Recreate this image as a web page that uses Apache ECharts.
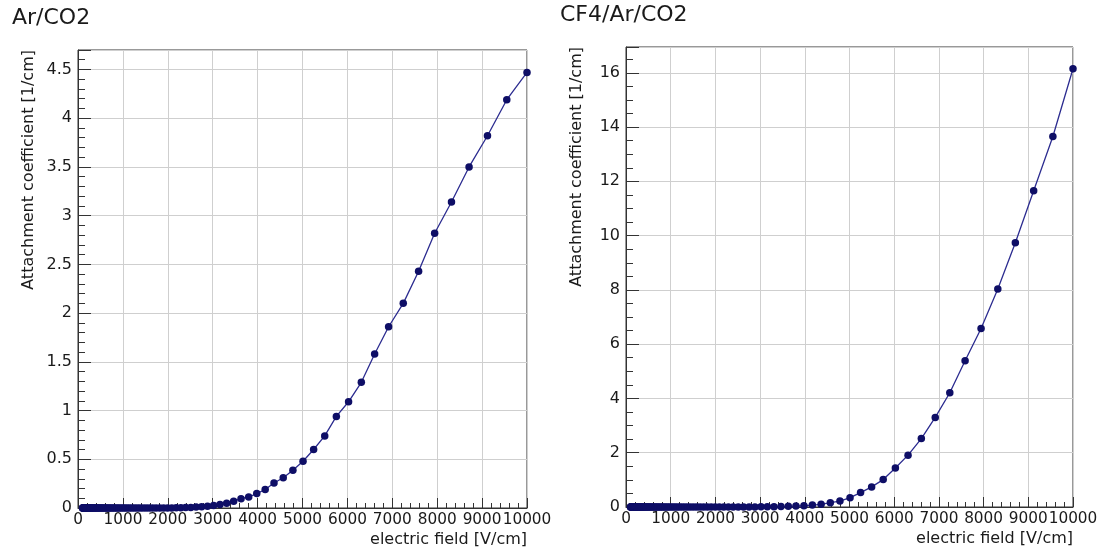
<!DOCTYPE html>
<html>
<head>
<meta charset="utf-8">
<script src="https://cdn.jsdelivr.net/npm/echarts@6/dist/echarts.min.js"></script>
<style>
html,body{margin:0;padding:0;background:#fff;}
#c{width:1103px;height:556px;}
</style>
</head>
<body>
<div id="c"></div>
<script>
// electric field values [V/cm] (same for both panels)
var fieldValues = [100,105,110,115,120,126,132,138,145,151,158,166,174,182,191,200,209,219,229,240,251,263,275,288,302,316,331,347,363,380,398,417,437,457,479,501,525,550,575,603,631,661,692,724,759,794,832,871,912,955,1000,1047,1096,1148,1202,1259,1318,1380,1445,1514,1585,1660,1738,1820,1905,1995,2089,2188,2291,2399,2512,2630,2754,2884,3020,3162,3311,3467,3631,3802,3981,4169,4365,4571,4786,5012,5248,5495,5754,6026,6310,6607,6918,7244,7586,7943,8318,8710,9120,9550,10000];

// Ar/CO2 attachment coefficient [1/cm]
var arCo2Values = [0,0,0,0,0,0,0,0,0,0,0,0,0,0,0,0,0,0,0,0,0,0,0,0,0,0,0,0,0,0,0,0,0,0,0,0,0,0,0,0,0,0,0,0,0,0,0,0,0,0,0,0,0,0,0,0,0,0,0,0,0,0,0,0,0,0,
0.001,0.002,0.003,0.004,0.006,0.009,0.013,0.018,0.025,0.035,0.05,0.07,0.096,0.113,0.148,0.19,0.256,0.31,0.387,0.48,0.60,0.74,0.94,1.09,1.29,1.58,1.86,2.10,2.43,2.82,3.14,3.50,3.82,4.19,4.47];

// CF4/Ar/CO2 attachment coefficient [1/cm]
var cf4ArCo2Values = [0,0,0,0,0,0,0,0,0,0,0,0,0,0,0,0,0,0,0,0,0,0,0,0,0,0,0,0,0,0,0,0,0,0,0,0,0,0,0,0,0,0,0,0,0,0,0,0,0,0,0,0,0,0,0,0,0,0,0,0,0,0,0,0,0,0,
0,0,0,0,0,0.001,0.002,0.003,0.005,0.008,0.012,0.018,0.025,0.035,0.05,0.07,0.10,0.16,0.22,0.345,0.53,0.74,1.01,1.44,1.91,2.52,3.30,4.21,5.39,6.58,8.03,9.74,11.65,13.65,16.15];

var panelTitles = ['Ar/CO2', 'CF4/Ar/CO2'];
var xTitle = 'electric field [V/cm]';
var yTitle = 'Attachment coefficient [1/cm]';

var FONT = 'DejaVu Sans';
var frameColor = '#333';
var gridColor = '#cfcfcf';
var textColor = '#1a1a1a';
var markColor = '#0e0e66';
var lineColor = '#2c2c90';

function pairs(xs, ys){ return xs.map(function(x,i){ return [x, ys[i]]; }); }

function xAxisCfg(idx){
  return {
    type:'value', gridIndex: idx, min:0, max:10000, interval:1000,
    name: xTitle, nameLocation:'end', nameGap:0,
    nameTextStyle:{fontFamily:FONT, fontSize:16, color:textColor, align:'right', verticalAlign:'top', padding:[24,0,0,0]},
    axisLine:{show:true, onZero:false, lineStyle:{color:frameColor, width:1}},
    axisTick:{show:true, inside:true, length:10, lineStyle:{color:frameColor, width:1}},
    minorTick:{show:true, splitNumber:5, length:5, lineStyle:{color:frameColor, width:1}},
    splitLine:{show:true, lineStyle:{color:gridColor, width:1}},
    axisLabel:{fontFamily:FONT, fontSize:15.3, color:textColor, margin:5, showMaxLabel:true, showMinLabel:true, hideOverlap:false,
      formatter:function(v){ return String(v); }}
  };
}
function yAxisCfg(idx, max, interval, minorSplit){
  return {
    type:'value', gridIndex: idx, min:0, max:max, interval:interval,
    name: yTitle, nameLocation:'end', nameGap:0, nameRotate:90,
    nameTextStyle:{fontFamily:FONT, fontSize:16, color:textColor, align:'right', verticalAlign:'bottom', padding:[0,0,41,0]},
    axisLine:{show:true, onZero:false, lineStyle:{color:frameColor, width:1}},
    axisTick:{show:true, inside:true, length:13, lineStyle:{color:frameColor, width:1}},
    minorTick:{show:true, splitNumber:minorSplit, length:7, lineStyle:{color:frameColor, width:1}},
    splitLine:{show:true, lineStyle:{color:gridColor, width:1}},
    axisLabel:{fontFamily:FONT, fontSize:16, color:textColor, margin:6, showMaxLabel:false, hideOverlap:false}
  };
}
function seriesCfg(idx, ys){
  return {
    type:'line', xAxisIndex:idx, yAxisIndex:idx,
    data: pairs(fieldValues, ys),
    symbol:'circle', symbolSize:7.5,
    itemStyle:{color:markColor},
    lineStyle:{color:lineColor, width:1.3},
    animation:false, z:3
  };
}

var chart = echarts.init(document.getElementById('c'), null, {renderer:'canvas'});
chart.setOption({
  backgroundColor:'#fff',
  animation:false,
  title:[
    {text:panelTitles[0], left:7, top:2, textStyle:{fontFamily:FONT, fontSize:22, fontWeight:'normal', color:textColor}},
    {text:panelTitles[1], left:555, top:-1, textStyle:{fontFamily:FONT, fontSize:22, fontWeight:'normal', color:textColor}}
  ],
  grid:[
    {left:78, top:50, width:449, height:458, show:true, borderColor:frameColor, borderWidth:1, containLabel:false},
    {left:626, top:47, width:447, height:460, show:true, borderColor:frameColor, borderWidth:1, containLabel:false}
  ],
  xAxis:[xAxisCfg(0), xAxisCfg(1)],
  yAxis:[yAxisCfg(0, 4.7, 0.5, 5), yAxisCfg(1, 16.95, 2, 4)],
  series:[seriesCfg(0, arCo2Values), seriesCfg(1, cf4ArCo2Values)]
});
</script>
</body>
</html>
